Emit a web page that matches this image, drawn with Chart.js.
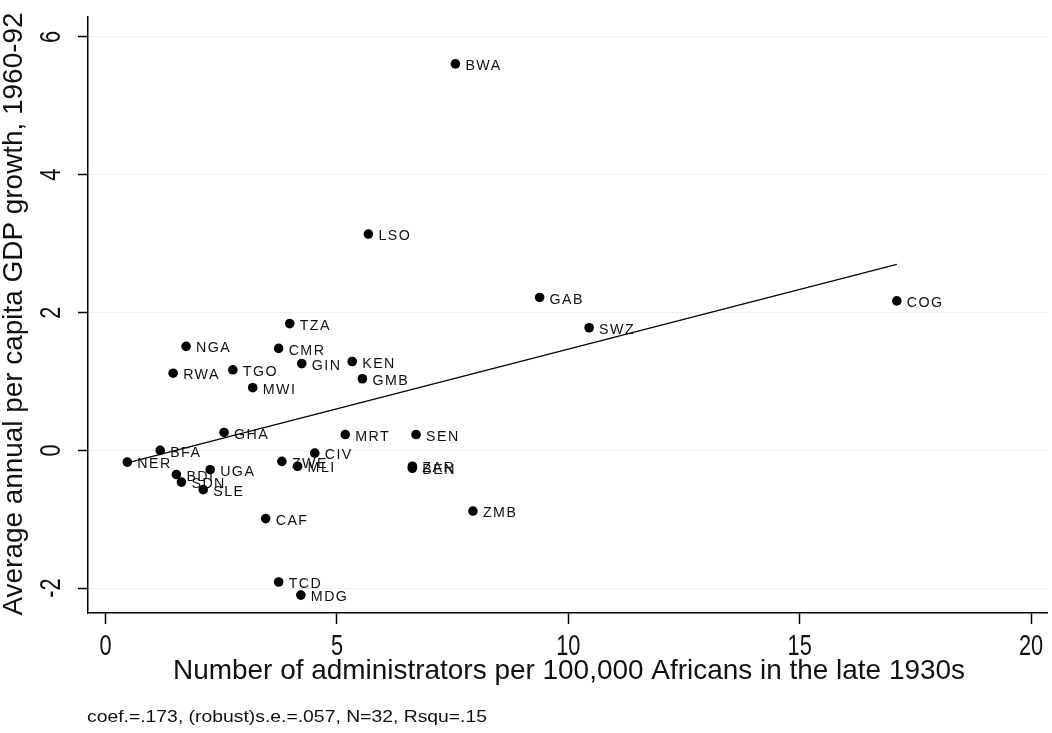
<!DOCTYPE html>
<html>
<head>
<meta charset="utf-8">
<script src="https://cdn.jsdelivr.net/npm/chart.js@4.4.0/dist/chart.umd.min.js"></script>
<style>
html,body{margin:0;padding:0;background:#fff;}
#wrap{width:1052px;height:733px;position:relative;}
</style>
</head>
<body>
<div id="wrap"><canvas id="c" width="1052" height="733"></canvas></div>
<script>
// ---- data ----
const countries = ["BWA","LSO","GAB","COG","SWZ","TZA","NGA","CMR","GIN","KEN","GMB","RWA","TGO","MWI","GHA","MRT","SEN","BFA","NER","CIV","ZWE","MLI","ZAR","BEN","UGA","BDI","SDN","SLE","CAF","ZMB","TCD","MDG"];
const administrators = [7.56,5.68,9.38,17.10,10.45,3.98,1.74,3.74,4.24,5.33,5.55,1.46,2.75,3.18,2.56,5.18,6.71,1.18,0.47,4.52,3.81,4.15,6.63,6.63,2.26,1.53,1.64,2.11,3.46,7.94,3.74,4.22];
const gdpGrowth = [5.61,3.14,2.22,2.17,1.78,1.84,1.51,1.48,1.26,1.29,1.04,1.12,1.17,0.91,0.26,0.23,0.23,0.00,-0.17,-0.04,-0.16,-0.23,-0.23,-0.26,-0.28,-0.35,-0.46,-0.57,-0.99,-0.88,-1.91,-2.10];
const fitX = [0.47, 17.10];
const fitY = [-0.18, 2.70];
const xTicks = [0,5,10,15,20];
const yTicks = [-2,0,2,4,6];
const xTitle = "Number of administrators per 100,000 Africans in the late 1930s";
const yTitle = "Average annual per capita GDP growth, 1960-92";
const note = "coef.=.173, (robust)s.e.=.057, N=32, Rsqu=.15";

const FONT = '"Liberation Sans", Arial, sans-serif';

function drawText(ctx, text, x, y, o) {
  ctx.save();
  ctx.font = o.size + 'px ' + FONT;
  ctx.fillStyle = o.color || '#000';
  ctx.textBaseline = o.baseline || 'middle';
  if (o.spacing) { try { ctx.letterSpacing = o.spacing + 'px'; } catch (e) {} }
  ctx.translate(x, y);
  if (o.rot) ctx.rotate(o.rot);
  const w = ctx.measureText(text).width;
  const sx = o.width ? o.width / w : (o.sx || 1);
  ctx.scale(sx, 1);
  ctx.textAlign = o.align || 'center';
  ctx.fillText(text, 0, 0);
  ctx.restore();
}

const textPlugin = {
  id: 'textPlugin',
  afterDatasetsDraw(chart) {
    const ctx = chart.ctx;
    const meta = chart.getDatasetMeta(0);
    meta.data.forEach((pt, i) => {
      drawText(ctx, countries[i], pt.x + 10, pt.y + 2, {size: 15, align: 'left', spacing: 1.5, sx: 0.95, color: '#111'});
    });
  },
  afterDraw(chart) {
    const ctx = chart.ctx;
    const xs = chart.scales.x, ys = chart.scales.y;
    xTicks.forEach(v => {
      drawText(ctx, String(v), xs.getPixelForValue(v), 647, {size: 29, sx: 0.75, color: '#111'});
    });
    yTicks.forEach(v => {
      drawText(ctx, String(v), 52, ys.getPixelForValue(v), {size: 29, sx: 0.75, rot: -Math.PI / 2, color: '#111'});
    });
    drawText(ctx, xTitle, 569, 671, {size: 28, width: 792, color: '#111'});
    drawText(ctx, yTitle, 14, 314, {size: 28, width: 603, rot: -Math.PI / 2, color: '#111'});
    drawText(ctx, note, 87, 717, {size: 17, width: 400, align: 'left', color: '#111'});
  }
};

const scatterData = administrators.map((x, i) => ({x: x, y: gdpGrowth[i]}));
const fitData = fitX.map((x, i) => ({x: x, y: fitY[i]}));

new Chart(document.getElementById('c'), {
  type: 'scatter',
  data: {
    datasets: [
      {data: scatterData, pointRadius: 4.8, pointHoverRadius: 4.8, backgroundColor: '#000', borderWidth: 0, pointStyle: 'circle'},
      {data: fitData, showLine: true, pointRadius: 0, borderColor: '#000', borderWidth: 1.2, fill: false}
    ]
  },
  options: {
    responsive: false,
    devicePixelRatio: 1,
    animation: false,
    layout: {padding: {left: 0, top: 17, right: 0, bottom: 0}},
    plugins: {legend: {display: false}, tooltip: {enabled: false}},
    scales: {
      x: {
        type: 'linear', min: -0.38, max: 20.35,
        afterBuildTicks: s => { s.ticks = xTicks.map(v => ({value: v})); },
        afterFit: s => { s.height = 120; },
        ticks: {display: false},
        grid: {drawOnChartArea: false, drawTicks: true, tickLength: 11, tickColor: '#000', tickWidth: 1.5},
        border: {display: true, color: '#000', width: 1.5}
      },
      y: {
        type: 'linear', min: -2.36, max: 6.29,
        afterBuildTicks: s => { s.ticks = yTicks.map(v => ({value: v})); },
        afterFit: s => { s.width = 88; },
        ticks: {display: false},
        grid: {color: '#eeeeee', lineWidth: 1, drawTicks: true, tickLength: 10, tickColor: '#000', tickWidth: 1.5},
        border: {display: true, color: '#000', width: 1.5}
      }
    }
  },
  plugins: [textPlugin]
});
</script>
</body>
</html>
